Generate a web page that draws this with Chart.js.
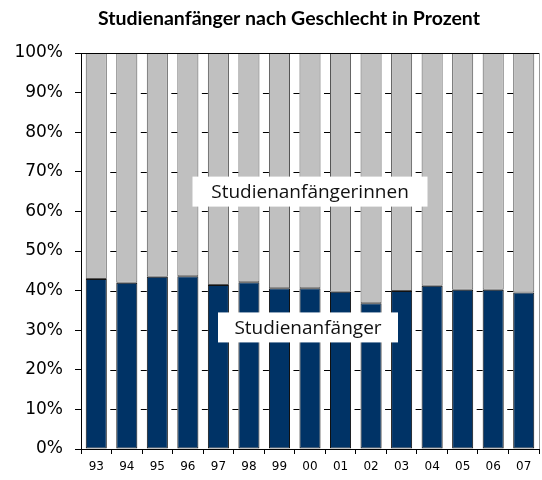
<!DOCTYPE html>
<html>
<head>
<meta charset="utf-8">
<script src="https://cdn.jsdelivr.net/npm/chart.js@4"></script>
<style>
  html, body { margin: 0; padding: 0; background: #fff; }
  #wrap { width: 542px; height: 480px; }
</style>
</head>
<body>
<div id="wrap"><canvas id="chart" width="542" height="480"></canvas></div>
<script>
// Daten (Anteil in Prozent)
const years = ['93', '94', '95', '96', '97', '98', '99', '00', '01', '02', '03', '04', '05', '06', '07'];
const maenner = [42.9, 42.0, 43.5, 43.6, 41.4, 42.1, 40.6, 40.6, 39.7, 36.8, 39.9, 41.2, 40.2, 40.2, 39.5];
const frauen = [57.1, 58.0, 56.5, 56.4, 58.6, 57.9, 59.4, 59.4, 60.3, 63.2, 60.1, 58.8, 59.8, 59.8, 60.5];
const seriesNames = ['Studienanfänger', 'Studienanfängerinnen'];
const titleText = 'Studienanfänger nach Geschlecht in Prozent';

// kurze Gitterstriche an den Kategoriegrenzen (wie im Original)
const gridStubs = {
  id: 'gridStubs',
  afterDatasetsDraw(chart) {
    const { ctx, chartArea, scales } = chart;
    const step = (chartArea.right - chartArea.left) / years.length;
    const half = 0.69 * step / 2;
    ctx.save();
    ctx.strokeStyle = '#000';
    ctx.lineWidth = 1;
    for (let v = 10; v < 100; v += 10) {
      const y = Math.round(scales.y.getPixelForValue(v)) + 0.5;
      for (let i = 1; i < years.length; i++) {
        const xb = scales.x.getPixelForValue(i) - half;
        ctx.beginPath();
        ctx.moveTo(xb - 6, y);
        ctx.lineTo(xb, y);
        ctx.stroke();
      }
    }
    ctx.restore();
  }
};

// Titel, Rahmen und Beschriftungskästen
const extras = {
  id: 'extras',
  afterDatasetsDraw(chart) {
    const { ctx, chartArea, scales } = chart;
    const cx = (chartArea.left + chartArea.right) / 2;
    const boxes = [
      { text: seriesNames[1], y: scales.y.getPixelForValue(65), w: 235, x: cx },
      { text: seriesNames[0], y: scales.y.getPixelForValue(30.7), w: 180, x: cx - 2 }
    ];
    ctx.save();
    ctx.font = '19px "Open Sans"';
    ctx.textAlign = 'center';
    ctx.textBaseline = 'middle';
    boxes.forEach(b => {
      ctx.fillStyle = '#fff';
      ctx.fillRect(b.x - b.w / 2, b.y - 15, b.w, 30);
      ctx.fillStyle = '#111';
      ctx.fillText(b.text, b.x, b.y + 1);
    });
    ctx.lineWidth = 1;
    // oberer Rand
    ctx.strokeStyle = '#000';
    ctx.beginPath();
    ctx.moveTo(chartArea.left, chartArea.top + 0.5);
    ctx.lineTo(chartArea.right, chartArea.top + 0.5);
    ctx.stroke();
    // rechter Rand
    ctx.strokeStyle = '#999';
    ctx.beginPath();
    ctx.moveTo(chartArea.right + 0.5, chartArea.top);
    ctx.lineTo(chartArea.right + 0.5, chartArea.bottom);
    ctx.stroke();
    // Titel
    ctx.fillStyle = '#000';
    ctx.font = 'bold 19.5px Lato';
    ctx.fillText(titleText, 289, 19);
    ctx.restore();
  }
};

const ctx = document.getElementById('chart').getContext('2d');
new Chart(ctx, {
  type: 'bar',
  data: {
    labels: years,
    datasets: [{
      label: seriesNames[0],
      data: maenner,
      backgroundColor: '#003366',
      borderColor: '#111',
      borderWidth: 1,
      borderSkipped: false,
      barPercentage: 0.69,
      categoryPercentage: 1
    }, {
      label: seriesNames[1],
      data: frauen,
      backgroundColor: '#c0c0c0',
      borderColor: '#555',
      borderWidth: 1,
      borderSkipped: false,
      barPercentage: 0.69,
      categoryPercentage: 1
    }]
  },
  options: {
    responsive: false,
    animation: false,
    layout: { padding: { top: 53, right: 3, left: 0, bottom: 0 } },
    plugins: {
      legend: { display: false },
      title: { display: false },
      tooltip: { enabled: false }
    },
    scales: {
      x: {
        stacked: true,
        grid: { offset: true, drawOnChartArea: false, color: '#000', tickLength: 5 },
        border: { display: true, color: '#000' },
        ticks: { color: '#000', font: { family: 'DejaVu Sans', size: 12 }, padding: 6, maxRotation: 0 },
        afterFit: (scale) => { scale.height = 31; }
      },
      y: {
        stacked: true,
        min: 0,
        max: 100,
        grid: {
          color: '#000',
          tickLength: 6,
          drawTicks: true,
          drawOnChartArea: false
        },
        border: { display: true, color: '#000' },
        ticks: {
          stepSize: 10,
          color: '#000',
          padding: 12,
          font: { family: 'DejaVu Sans', size: 17 },
          callback: (v) => v + '%'
        },
        afterFit: (scale) => { scale.width = 81; }
      }
    }
  },
  plugins: [gridStubs, extras]
});
</script>
</body>
</html>
